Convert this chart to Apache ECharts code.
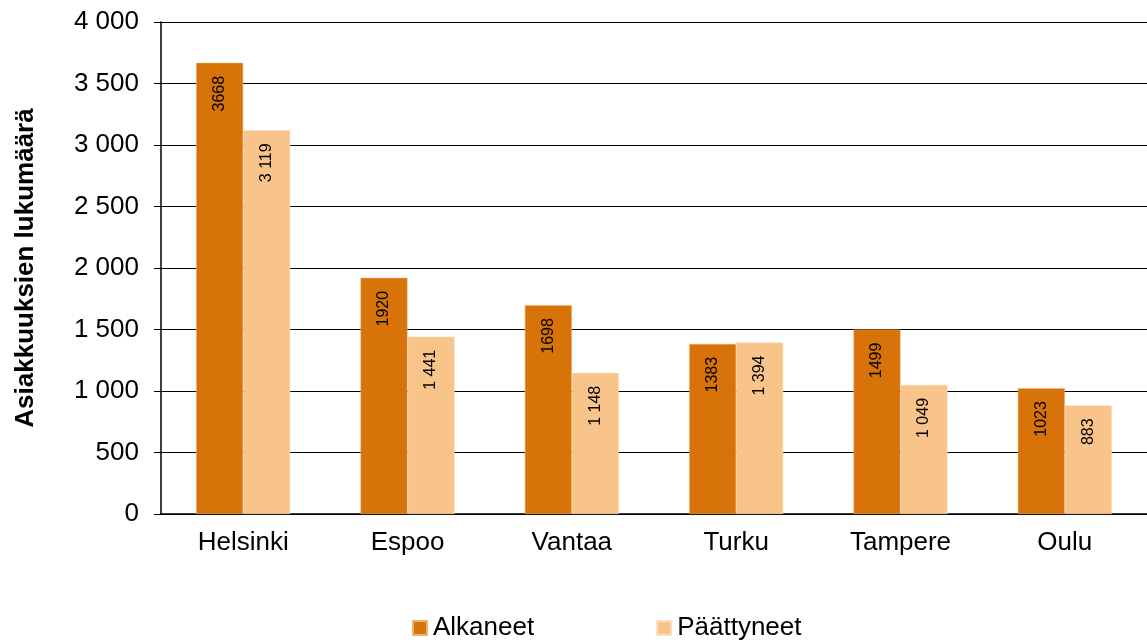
<!DOCTYPE html>
<html><head><meta charset="utf-8">
<script src="https://cdn.jsdelivr.net/npm/echarts@6/dist/echarts.min.js"></script>
<style>html,body{margin:0;padding:0;background:#fff}#c{width:1147px;height:642px}</style>
</head><body><div id="c"></div>
<script>
const categories = ['Helsinki','Espoo','Vantaa','Turku','Tampere','Oulu'];
const alkaneet = [3668, 1920, 1698, 1383, 1499, 1023];
const paattyneet = [3119, 1441, 1148, 1394, 1049, 883];
const seriesNames = ['Alkaneet','Päättyneet'];
const yAxisName = 'Asiakkuuksien lukumäärä';

const spaced = v => String(v).replace(/\B(?=(\d{3})+(?!\d))/g, ' ');
const font = 'Liberation Sans, Arial, sans-serif';
const chart = echarts.init(document.getElementById('c'));
const lbl = (fmt) => ({
  show: true, position: 'insideTop', rotate: 90, distance: 13,
  align: 'right', verticalAlign: 'middle',
  fontSize: 16, color: '#000', fontFamily: font, formatter: fmt
});
chart.setOption({
  animation: false,
  textStyle: {fontFamily: font},
  grid: {left: 161, top: 22, width: 991, height: 492},
  legend: {
    top: 615, left: 412, padding: 0, itemGap: 122, itemWidth: 14, itemHeight: 14,
    icon: 'rect', textStyle: {fontSize: 26, color: '#000', fontFamily: font, padding: [0,0,0,1]},
    data: seriesNames
  },
  xAxis: {
    type: 'category', data: categories,
    axisLine: {lineStyle: {color: '#000', width: 1.5}},
    axisTick: {show: false},
    axisLabel: {fontSize: 26, color: '#000', margin: 16, fontFamily: font}
  },
  yAxis: {
    type: 'value', min: 0, max: 4000, interval: 500,
    name: yAxisName, nameLocation: 'middle', nameGap: 122, nameRotate: 90,
    nameTextStyle: {fontSize: 26, fontWeight: 'bold', color: '#000', fontFamily: font},
    axisLine: {show: true, lineStyle: {color: '#000', width: 1.5}},
    axisTick: {show: true, length: 7, lineStyle: {color: '#000'}},
    splitLine: {lineStyle: {color: '#000', width: 1}},
    axisLabel: {fontSize: 26, color: '#000', margin: 22, fontFamily: font, formatter: v => spaced(v)}
  },
  series: [
    {name: seriesNames[0], type: 'bar', data: alkaneet, barWidth: 47, barGap: '0%',
     itemStyle: {color: '#D8730A', borderColor: '#F0B070', borderWidth: 0.5},
     label: lbl(p => String(p.value))},
    {name: seriesNames[1], type: 'bar', data: paattyneet, barWidth: 47,
     itemStyle: {color: '#F8C48A', borderColor: '#FBDDB8', borderWidth: 0.5},
     label: lbl(p => spaced(p.value))}
  ]
});
</script></body></html>
